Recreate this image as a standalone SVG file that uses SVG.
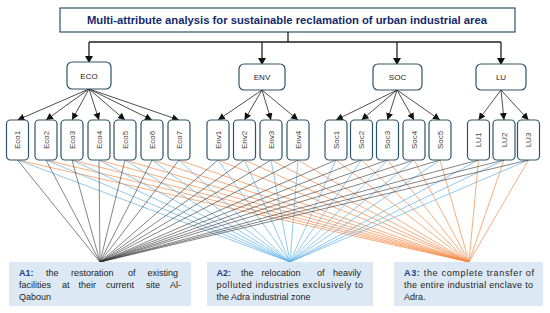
<svg xmlns="http://www.w3.org/2000/svg" width="550" height="313" viewBox="0 0 550 313">
<defs>
<marker id="ah" markerUnits="userSpaceOnUse" markerWidth="8" markerHeight="8" refX="7" refY="3.5" orient="auto">
<path d="M0,0 L7,3.5 L0,7 Z" fill="#111"/>
</marker>
<style>
.box{fill:#fff;stroke:#2f5468;stroke-width:1.2}
.pl{font-family:"Liberation Sans",Arial,sans-serif;font-size:8px;fill:#222;text-anchor:middle}
.cl{font-family:"Liberation Sans",Arial,sans-serif;font-size:8px;fill:#444;text-anchor:middle}
.ar{stroke:#222;stroke-width:0.8;fill:none;marker-end:url(#ah)}
.tr{stroke:#222;stroke-width:1.3;fill:none}
.k{stroke:#333;stroke-width:0.6}
.b{stroke:#62b1e6;stroke-width:0.7}
.o{stroke:#f58a45;stroke-width:0.7}
.alt{fill:#dce9f5}
.at{font-family:"Liberation Sans",Arial,sans-serif;font-size:9px;fill:#222}
.ab{font-weight:bold;fill:#1f3c88}
</style>
</defs>
<g id="title">
<rect x="60" y="8" width="455" height="24" fill="#fff" stroke="#2f5468" stroke-width="1.2"/>
<text x="287" y="24" text-anchor="middle" textLength="400" lengthAdjust="spacingAndGlyphs" font-family="'Liberation Sans',Arial,sans-serif" font-size="11.5" font-weight="bold" fill="#142a6b">Multi-attribute analysis for sustainable reclamation of urban industrial area</text>
</g>
<g id="connectors">
<path class="tr" d="M288,32 V42 M89,42 H501"/>
<path class="tr" d="M89,42 V56 M262,42 V58 M397,42 V58 M501,42 V58"/>
<path d="M85,56 L93,56 L89,63 Z M258,58 L266,58 L262,65 Z M393,58 L401,58 L397,65 Z M497,58 L505,58 L501,65 Z" fill="#111"/>
<g>
<line class="ar" x1="89" y1="89" x2="17.5" y2="120"/>
<line class="ar" x1="89" y1="89" x2="46" y2="120"/>
<line class="ar" x1="89" y1="89" x2="72" y2="120"/>
<line class="ar" x1="89" y1="89" x2="99" y2="120"/>
<line class="ar" x1="89" y1="89" x2="125" y2="120"/>
<line class="ar" x1="89" y1="89" x2="152" y2="120"/>
<line class="ar" x1="89" y1="89" x2="179" y2="120"/>
<line class="ar" x1="262" y1="90" x2="218" y2="120"/>
<line class="ar" x1="262" y1="90" x2="244.5" y2="120"/>
<line class="ar" x1="262" y1="90" x2="271" y2="120"/>
<line class="ar" x1="262" y1="90" x2="298" y2="120"/>
<line class="ar" x1="397" y1="90" x2="336" y2="120"/>
<line class="ar" x1="397" y1="90" x2="361.5" y2="120"/>
<line class="ar" x1="397" y1="90" x2="387.5" y2="120"/>
<line class="ar" x1="397" y1="90" x2="414" y2="120"/>
<line class="ar" x1="397" y1="90" x2="440" y2="120"/>
<line class="ar" x1="501" y1="90" x2="478.5" y2="120"/>
<line class="ar" x1="501" y1="90" x2="504" y2="120"/>
<line class="ar" x1="501" y1="90" x2="528.5" y2="120"/>
</g>
<g class="o">
<line x1="17.5" y1="160" x2="469" y2="262"/><line x1="46" y1="160" x2="469" y2="262"/><line x1="72" y1="160" x2="469" y2="262"/><line x1="99" y1="160" x2="469" y2="262"/><line x1="125" y1="160" x2="469" y2="262"/><line x1="152" y1="160" x2="469" y2="262"/><line x1="179" y1="160" x2="469" y2="262"/>
<line x1="218" y1="160" x2="469" y2="262"/><line x1="244.5" y1="160" x2="469" y2="262"/><line x1="271" y1="160" x2="469" y2="262"/><line x1="298" y1="160" x2="469" y2="262"/>
<line x1="336" y1="160" x2="469" y2="262"/><line x1="361.5" y1="160" x2="469" y2="262"/><line x1="387.5" y1="160" x2="469" y2="262"/><line x1="414" y1="160" x2="469" y2="262"/><line x1="440" y1="160" x2="469" y2="262"/>
<line x1="478.5" y1="160" x2="469" y2="262"/><line x1="504" y1="160" x2="469" y2="262"/><line x1="528.5" y1="160" x2="469" y2="262"/>
</g>
<g class="b">
<line x1="17.5" y1="160" x2="290" y2="262"/><line x1="46" y1="160" x2="290" y2="262"/><line x1="72" y1="160" x2="290" y2="262"/><line x1="99" y1="160" x2="290" y2="262"/><line x1="125" y1="160" x2="290" y2="262"/><line x1="152" y1="160" x2="290" y2="262"/><line x1="179" y1="160" x2="290" y2="262"/>
<line x1="218" y1="160" x2="290" y2="262"/><line x1="244.5" y1="160" x2="290" y2="262"/><line x1="271" y1="160" x2="290" y2="262"/><line x1="298" y1="160" x2="290" y2="262"/>
<line x1="336" y1="160" x2="290" y2="262"/><line x1="361.5" y1="160" x2="290" y2="262"/><line x1="387.5" y1="160" x2="290" y2="262"/><line x1="414" y1="160" x2="290" y2="262"/><line x1="440" y1="160" x2="290" y2="262"/>
<line x1="478.5" y1="160" x2="290" y2="262"/><line x1="504" y1="160" x2="290" y2="262"/><line x1="528.5" y1="160" x2="290" y2="262"/>
</g>
<g class="k">
<line x1="17.5" y1="160" x2="100" y2="262"/><line x1="46" y1="160" x2="100" y2="262"/><line x1="72" y1="160" x2="100" y2="262"/><line x1="99" y1="160" x2="100" y2="262"/><line x1="125" y1="160" x2="100" y2="262"/><line x1="152" y1="160" x2="100" y2="262"/><line x1="179" y1="160" x2="100" y2="262"/>
<line x1="218" y1="160" x2="100" y2="262"/><line x1="244.5" y1="160" x2="100" y2="262"/><line x1="271" y1="160" x2="100" y2="262"/><line x1="298" y1="160" x2="100" y2="262"/>
<line x1="336" y1="160" x2="100" y2="262"/><line x1="361.5" y1="160" x2="100" y2="262"/><line x1="387.5" y1="160" x2="100" y2="262"/><line x1="414" y1="160" x2="100" y2="262"/><line x1="440" y1="160" x2="100" y2="262"/>
<line x1="478.5" y1="160" x2="100" y2="262"/><line x1="504" y1="160" x2="100" y2="262"/><line x1="528.5" y1="160" x2="100" y2="262"/>
</g>
</g>
<g id="ECO"><rect class="box" x="67" y="62" width="44" height="27" rx="5"/><text class="pl" x="89" y="78.5">ECO</text></g>
<g id="ENV"><rect class="box" x="239" y="64" width="46" height="26" rx="5"/><text class="pl" x="262" y="80">ENV</text></g>
<g id="SOC"><rect class="box" x="373" y="64" width="49" height="26" rx="5"/><text class="pl" x="397.5" y="80">SOC</text></g>
<g id="LU"><rect class="box" x="476" y="64" width="50" height="26" rx="5"/><text class="pl" x="501" y="80">LU</text></g>
<g id="Eco1"><rect class="box" x="6.5" y="120" width="22" height="40" rx="4"/><text class="cl" transform="translate(20.3,140) rotate(-90)">Eco1</text></g>
<g id="Eco2"><rect class="box" x="35" y="120" width="22" height="40" rx="4"/><text class="cl" transform="translate(48.8,140) rotate(-90)">Eco2</text></g>
<g id="Eco3"><rect class="box" x="61" y="120" width="22" height="40" rx="4"/><text class="cl" transform="translate(74.8,140) rotate(-90)">Eco3</text></g>
<g id="Eco4"><rect class="box" x="88" y="120" width="22" height="40" rx="4"/><text class="cl" transform="translate(101.8,140) rotate(-90)">Eco4</text></g>
<g id="Eco5"><rect class="box" x="114" y="120" width="22" height="40" rx="4"/><text class="cl" transform="translate(127.8,140) rotate(-90)">Eco5</text></g>
<g id="Eco6"><rect class="box" x="141" y="120" width="22" height="40" rx="4"/><text class="cl" transform="translate(154.8,140) rotate(-90)">Eco6</text></g>
<g id="Eco7"><rect class="box" x="168" y="120" width="22" height="40" rx="4"/><text class="cl" transform="translate(181.8,140) rotate(-90)">Eco7</text></g>
<g id="Env1"><rect class="box" x="207" y="120" width="22" height="40" rx="4"/><text class="cl" transform="translate(220.8,140) rotate(-90)">Env1</text></g>
<g id="Env2"><rect class="box" x="233.5" y="120" width="22" height="40" rx="4"/><text class="cl" transform="translate(247.3,140) rotate(-90)">Env2</text></g>
<g id="Env3"><rect class="box" x="260" y="120" width="22" height="40" rx="4"/><text class="cl" transform="translate(273.8,140) rotate(-90)">Env3</text></g>
<g id="Env4"><rect class="box" x="287" y="120" width="22" height="40" rx="4"/><text class="cl" transform="translate(300.8,140) rotate(-90)">Env4</text></g>
<g id="Soc1"><rect class="box" x="325" y="120" width="22" height="40" rx="4"/><text class="cl" transform="translate(338.8,140) rotate(-90)">Soc1</text></g>
<g id="Soc2"><rect class="box" x="350.5" y="120" width="22" height="40" rx="4"/><text class="cl" transform="translate(364.3,140) rotate(-90)">Soc2</text></g>
<g id="Soc3"><rect class="box" x="376.5" y="120" width="22" height="40" rx="4"/><text class="cl" transform="translate(390.3,140) rotate(-90)">Soc3</text></g>
<g id="Soc4"><rect class="box" x="403" y="120" width="22" height="40" rx="4"/><text class="cl" transform="translate(416.8,140) rotate(-90)">Soc4</text></g>
<g id="Soc5"><rect class="box" x="429" y="120" width="22" height="40" rx="4"/><text class="cl" transform="translate(442.8,140) rotate(-90)">Soc5</text></g>
<g id="LU1"><rect class="box" x="467.5" y="120" width="22" height="40" rx="4"/><text class="cl" transform="translate(481.3,140) rotate(-90)">LU1</text></g>
<g id="LU2"><rect class="box" x="493" y="120" width="22" height="40" rx="4"/><text class="cl" transform="translate(506.8,140) rotate(-90)">LU2</text></g>
<g id="LU3"><rect class="box" x="517.5" y="120" width="22" height="40" rx="4"/><text class="cl" transform="translate(531.3,140) rotate(-90)">LU3</text></g>
<g id="A1">
<rect class="alt" x="9" y="262" width="182" height="44"/>
<text class="at" y="276"><tspan class="ab" x="19">A1:</tspan><tspan x="46">the</tspan><tspan x="71">restoration</tspan><tspan x="128">of</tspan><tspan x="147.5">existing</tspan></text>
<text class="at" y="288"><tspan x="19">facilities</tspan><tspan x="62">at</tspan><tspan x="78.5">their</tspan><tspan x="106">current</tspan><tspan x="146">site</tspan><tspan x="170">Al-</tspan></text>
<text class="at" y="300"><tspan x="19">Qaboun</tspan></text>
</g>
<g id="A2">
<rect class="alt" x="207" y="262" width="166" height="44"/>
<text class="at" y="276"><tspan class="ab" x="216.5">A2:</tspan><tspan x="241">the</tspan><tspan x="261.5">relocation</tspan><tspan x="317">of</tspan><tspan x="333">heavily</tspan></text>
<text class="at" y="288" x="216.5" textLength="146.5" lengthAdjust="spacing">polluted industries exclusively to</text>
<text class="at" y="300" x="216.5">the Adra industrial zone</text>
</g>
<g id="A3">
<rect class="alt" x="394" y="262" width="149" height="44"/>
<text class="at" y="276" x="404" textLength="130" lengthAdjust="spacing"><tspan class="ab">A3:</tspan> the complete transfer of</text>
<text class="at" y="288" x="404" textLength="129" lengthAdjust="spacing">the entire industrial enclave to</text>
<text class="at" y="300" x="404">Adra.</text>
</g>
</svg>
